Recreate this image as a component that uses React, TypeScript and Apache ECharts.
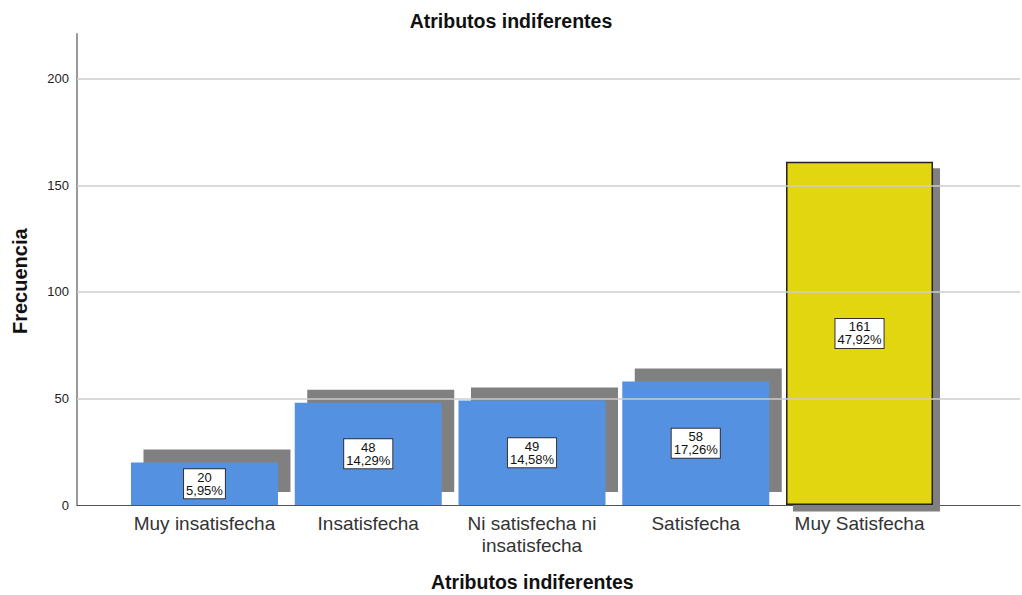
import React, { useEffect, useRef } from "react";
import * as echarts from "echarts";

const title = "Atributos indiferentes";
const xName = "Atributos indiferentes";
const yName = "Frecuencia";
const categories = [
  "Muy insatisfecha",
  "Insatisfecha",
  "Ni satisfecha ni\ninsatisfecha",
  "Satisfecha",
  "Muy Satisfecha",
];
const frequencies = [20, 48, 49, 58, 161];
const percentages = ["5,95%", "14,29%", "14,58%", "17,26%", "47,92%"];
const gridValues = [50, 100, 150, 200];

const FONT = "'Liberation Sans', Arial, sans-serif";
const BLUE = "#5591E1";
const YELLOW = "#E1D60F";
const SHADOW = "#808080";
const BAR_W = 147;

export default function App() {
  const ref = useRef<HTMLDivElement>(null);
  useEffect(() => {
    if (!ref.current) return;
    const chart = echarts.init(ref.current, null, { renderer: "svg" });
    const last = frequencies.length - 1;
    chart.setOption({
      animation: false,
      backgroundColor: "#ffffff",
      textStyle: { fontFamily: FONT },
      title: {
        text: title,
        left: "center",
        top: 6,
        textStyle: { fontFamily: FONT, fontSize: 19.5, fontWeight: "bold", color: "#111" },
      },
      graphic: [
        {
          type: "text",
          left: 431,
          top: 572,
          style: { text: xName, font: `bold 19.5px ${FONT}`, fill: "#111" },
        },
        {
          type: "text",
          x: 10,
          y: 334,
          rotation: Math.PI / 2,
          style: { text: yName, font: `bold 20px ${FONT}`, fill: "#111" },
        },
      ],
      grid: [
        { left: 77, right: 2, top: 34, bottom: 90 },
        { left: 122.6, right: 80.6, top: 34, bottom: 90 },
      ],
      xAxis: [
        {
          gridIndex: 0,
          type: "value",
          min: 0,
          max: 1,
          axisLine: { show: true, onZero: false, lineStyle: { color: "#555", width: 1 } },
          axisTick: { show: false },
          axisLabel: { show: false },
          splitLine: { show: false },
        },
        {
          gridIndex: 1,
          type: "category",
          data: categories,
          axisLine: { show: false },
          axisTick: { show: false },
          axisLabel: {
            color: "#333",
            fontSize: 19,
            lineHeight: 22,
            margin: 7,
            fontFamily: FONT,
            interval: 0,
          },
        },
      ],
      yAxis: [
        {
          gridIndex: 0,
          type: "value",
          min: 0,
          max: 221,
          interval: 50,
          axisLine: { show: true, lineStyle: { color: "#999", width: 2 } },
          axisTick: { show: false },
          axisLabel: { color: "#222", fontSize: 13, margin: 8, showMaxLabel: false, fontFamily: FONT },
          splitLine: { show: false },
        },
        {
          gridIndex: 1,
          type: "value",
          min: 0,
          max: 221,
          show: false,
          splitLine: { show: false },
        },
      ],
      series: [
        {
          type: "line",
          xAxisIndex: 0,
          yAxisIndex: 0,
          data: [],
          silent: true,
          z: 0,
          markLine: {
            silent: true,
            symbol: "none",
            label: { show: false },
            lineStyle: { color: "#cccccc", width: 1.5, type: "solid" },
            data: gridValues.map((v) => ({ yAxis: v })),
          },
        },
        {
          type: "custom",
          xAxisIndex: 1,
          yAxisIndex: 1,
          z: 1,
          data: frequencies.map((v, i) => [i, v]),
          renderItem: (params: any, api: any) => {
            const xi = api.value(0);
            const v = api.value(1);
            const top = api.coord([xi, v]);
            const base = api.coord([xi, 0]);
            const isLast = params.dataIndex === last;
            const dx = isLast ? 7 : 12.5;
            const dy = isLast ? 6.5 : -13;
            return {
              type: "rect",
              shape: {
                x: top[0] - BAR_W / 2 + dx,
                y: top[1] + dy,
                width: BAR_W,
                height: base[1] - top[1],
              },
              style: { fill: SHADOW },
            };
          },
        },
        {
          type: "bar",
          xAxisIndex: 1,
          yAxisIndex: 1,
          z: 2,
          barWidth: BAR_W,
          data: frequencies.map((v, i) => ({
            value: v,
            itemStyle:
              i === last
                ? { color: YELLOW, borderColor: "#222", borderWidth: 1.5 }
                : { color: BLUE },
          })),
          label: {
            show: true,
            position: "inside",
            formatter: (p: any) => `${p.value}\n${percentages[p.dataIndex]}`,
            color: "#111",
            fontSize: 13,
            lineHeight: 13,
            fontFamily: FONT,
            backgroundColor: "#ffffff",
            borderColor: "#333",
            borderWidth: 1,
            padding: [2, 2, 1, 2],
            align: "center",
          },
        },
      ],
    });
    return () => chart.dispose();
  }, []);
  return (
    <div
      ref={ref}
      style={{ position: "fixed", left: 0, top: 0, width: 1022, height: 595 }}
    />
  );
}
